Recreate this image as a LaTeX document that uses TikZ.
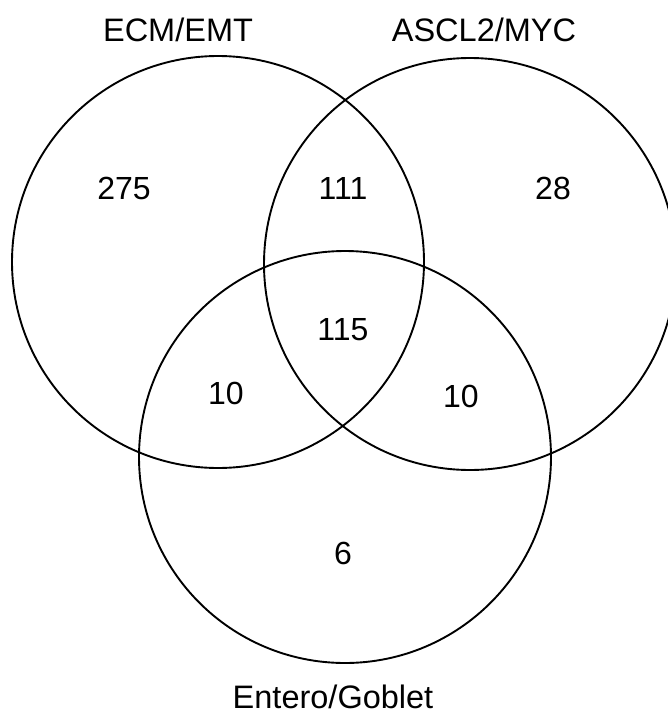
\documentclass[tikz,border=0pt]{standalone}
\usepackage{fontspec}
\setmainfont{Liberation Sans}
\begin{document}
\begin{tikzpicture}[x=1pt,y=-1pt,
  ring/.style={draw=black,line width=1.9pt,circle,minimum size=412pt,inner sep=0pt},
  setlabel/.style={font=\fontsize{32.5}{38}\selectfont,inner sep=0pt},
  count/.style={font=\fontsize{32}{38}\selectfont,inner sep=0pt}]
\useasboundingbox (0,0) rectangle (668,715);
\node[ring] (A) at (218,262) {};
\node[ring] (B) at (470,264) {};
\node[ring] (C) at (345,457) {};
\node[setlabel] (la) at (178,30) {ECM/EMT};
\node[setlabel] (lb) at (484,30) {ASCL2/MYC};
\node[setlabel] (lc) at (333,697) {Entero/Goblet};
\node[count] (n1) at (124,188) {275};
\node[count] (n2) at (343,188) {111};
\node[count] (n3) at (553,188) {28};
\node[count] (n4) at (343,330) {115};
\node[count] (n5) at (226,393) {10};
\node[count] (n6) at (461,396) {10};
\node[count] (n7) at (343,553) {6};
\end{tikzpicture}
\end{document}
